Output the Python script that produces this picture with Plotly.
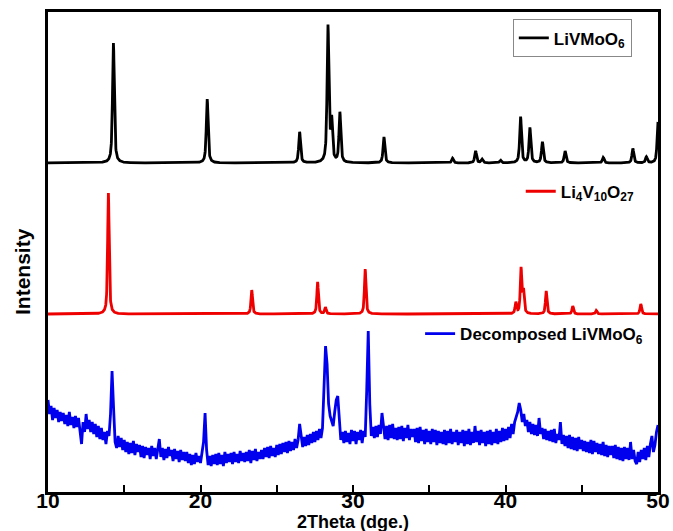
import numpy as np
import plotly.graph_objects as go

# ---------------- data ----------------
# LiVMoO6 reference pattern: peak positions (2theta) and heights (a.u.)
livmoo6_pos = [14.29, 20.44, 26.5, 28.36, 28.6, 29.14, 32.03, 36.53, 38.04, 38.46,
               39.67, 40.99, 41.6, 42.42, 43.91, 46.41, 48.35, 49.24, 50.0]
livmoo6_int = [120, 64, 31, 136, 40, 50, 26, 4.7, 12, 3.7,
               2.7, 46, 35, 21, 12, 5.5, 14.5, 6, 41]
livmoo6_offset = 329

# Li4V10O27 reference pattern
li4v10o27_pos = [13.96, 23.36, 27.68, 28.19, 30.8, 40.68, 41.02, 41.18, 42.67, 44.41, 45.95, 48.87]
li4v10o27_int = [121, 24, 32, 6.5, 45, 11, 45, 22, 23, 8, 3.5, 10]
li4v10o27_offset = 178

# Decomposed LiVMoO6, measured intensity every 0.1 deg from 10.0 to 50.0
decomp_start, decomp_step = 10.0, 0.1
decomp_int = [
    92, 78, 86, 72, 84, 74, 82, 70, 80, 71,
    79, 68, 77, 66, 80, 67, 75, 64, 76, 65,
    74, 62, 48, 70, 60, 78, 63, 72, 60, 70,
    58, 68, 55, 66, 53, 64, 52, 60, 48, 61,
    56, 78, 121, 84, 50, 44, 56, 45, 54, 42,
    52, 40, 50, 38, 49, 39, 51, 37, 48, 40,
    47, 35, 46, 34, 45, 37, 44, 33, 46, 36,
    44, 33, 45, 53, 35, 44, 32, 43, 34, 45,
    36, 42, 31, 43, 33, 41, 30, 42, 32, 40,
    31, 40, 29, 38, 27, 37, 28, 39, 30, 36,
    29, 38, 50, 79, 42, 27, 36, 26, 37, 28,
    38, 27, 39, 28, 37, 26, 40, 29, 38, 30,
    39, 28, 40, 30, 38, 29, 41, 31, 39, 30,
    40, 31, 42, 29, 41, 32, 43, 31, 40, 33,
    42, 33, 44, 35, 45, 34, 46, 36, 44, 35,
    47, 37, 48, 38, 49, 40, 50, 39, 51, 41,
    50, 42, 53, 44, 52, 68, 58, 45, 55, 46,
    57, 47, 58, 49, 60, 50, 61, 52, 63, 54,
    64, 104, 146, 128, 88, 76, 70, 66, 80, 92,
    96, 68, 52, 60, 49, 61, 50, 59, 48, 62,
    51, 61, 48, 60, 52, 62, 49, 61, 55, 102,
    161, 88, 56, 65, 54, 66, 55, 67, 58, 79,
    62, 53, 66, 52, 67, 54, 68, 53, 64, 52,
    65, 53, 66, 51, 64, 54, 67, 52, 63, 55,
    63, 50, 64, 49, 65, 51, 62, 48, 63, 50,
    61, 48, 63, 50, 62, 47, 61, 49, 60, 48,
    62, 47, 61, 49, 63, 48, 60, 50, 62, 47,
    60, 49, 62, 46, 61, 48, 63, 47, 60, 49,
    66, 50, 61, 47, 62, 49, 60, 46, 61, 48,
    62, 47, 60, 49, 63, 48, 61, 50, 64, 51,
    63, 52, 65, 54, 68, 58, 70, 75, 80, 89,
    82, 70, 78, 66, 72, 60, 70, 58, 68, 57,
    67, 56, 74, 58, 64, 53, 63, 52, 61, 51,
    62, 50, 63, 49, 58, 52, 70, 48, 57, 46,
    56, 44, 57, 43, 55, 42, 54, 41, 55, 43,
    52, 41, 51, 40, 50, 39, 52, 38, 51, 40,
    49, 38, 48, 37, 50, 36, 47, 35, 46, 37,
    46, 34, 47, 33, 45, 32, 44, 31, 45, 33,
    44, 32, 50, 33, 42, 31, 28, 40, 30, 42,
    33, 44, 32, 46, 35, 48, 56, 40, 47, 60,
    67,
]

x_ticks = [10, 15, 20, 25, 30, 35, 40, 45, 50]
x_tick_labels = ["10", "", "20", "", "30", "", "40", "", "50"]

# ---------------- build profiles from peak tables ----------------
grid = np.linspace(10, 50, 4001)


def pattern(pos, inten, offset, fwhm=0.14, eta=0.7):
    y = np.zeros_like(grid)
    g = fwhm / 2
    s = fwhm / 2.3548
    for p, h in zip(pos, inten):
        lor = 1 / (1 + ((grid - p) / g) ** 2)
        gau = np.exp(-0.5 * ((grid - p) / s) ** 2)
        y += h * (eta * lor + (1 - eta) * gau)
    return y + offset


y_black = pattern(livmoo6_pos, livmoo6_int, livmoo6_offset)
y_red = pattern(li4v10o27_pos, li4v10o27_int, li4v10o27_offset, fwhm=0.12)
x_blue = [decomp_start + i * decomp_step for i in range(len(decomp_int))]

FONT = "Liberation Sans, Arial, sans-serif"

fig = go.Figure()
fig.add_trace(go.Scatter(x=grid, y=y_black, mode="lines", name="LiVMoO<sub>6</sub>",
                         line=dict(color="black", width=2.8), legend="legend", xaxis="x2"))
fig.add_trace(go.Scatter(x=grid, y=y_red, mode="lines", name="Li<sub>4</sub>V<sub>10</sub>O<sub>27</sub>",
                         line=dict(color="#ee0000", width=2.8), legend="legend2"))
fig.add_trace(go.Scatter(x=x_blue, y=decomp_int, mode="lines", name="Decomposed LiVMoO<sub>6</sub>",
                         line=dict(color="#0000ee", width=2.8), legend="legend3"))

legend_font = dict(family=FONT, size=17, color="black", weight="bold")
fig.update_layout(
    width=673, height=531,
    margin=dict(l=48, r=15, t=12, b=39, autoexpand=False),
    paper_bgcolor="white", plot_bgcolor="white",
    showlegend=True,
    legend=dict(x=0.762, y=0.945, xanchor="left", yanchor="middle",
                bordercolor="#888888", borderwidth=1, bgcolor="white",
                font=legend_font, tracegroupgap=0),
    legend2=dict(x=0.775, y=0.6256, xanchor="left", yanchor="middle",
                 bgcolor="rgba(0,0,0,0)", font=legend_font),
    legend3=dict(x=0.61, y=0.329, xanchor="left", yanchor="middle",
                 bgcolor="rgba(0,0,0,0)", font=legend_font),
    xaxis=dict(range=[10, 50], tickvals=x_ticks, ticktext=x_tick_labels,
               ticks="inside", ticklen=7, tickwidth=2, tickcolor="black",
               showticklabels=False,
               showline=True, linecolor="black", linewidth=2.5, mirror=True,
               showgrid=False, zeroline=False, automargin=False),
    xaxis2=dict(range=[10, 50], matches="x", overlaying="x", anchor="free", position=0.013,
                side="bottom", tickvals=x_ticks, ticktext=x_tick_labels,
                ticks="", showline=False, showgrid=False, zeroline=False, automargin=False,
                tickfont=dict(family=FONT, size=21, color="black", weight="bold")),
    yaxis=dict(range=[0, 480], showticklabels=False, ticks="",
               showline=True, linecolor="black", linewidth=2.5, mirror=True,
               showgrid=False, zeroline=False, automargin=False),
    annotations=[
        dict(text="Intensity", xref="paper", yref="paper", x=-0.043, y=0.46,
             xanchor="center", yanchor="middle", textangle=-90, showarrow=False,
             font=dict(family=FONT, size=21, color="black", weight="bold")),
        dict(text="2Theta (dge.)", xref="paper", yref="paper", x=0.5, y=-0.062,
             xanchor="center", yanchor="middle", showarrow=False,
             font=dict(family=FONT, size=18, color="black", weight="bold")),
    ],
)

fig.write_html("out.html", config={"displayModeBar": False},
               post_script="document.body.style.margin='0';document.body.style.padding='0';")
